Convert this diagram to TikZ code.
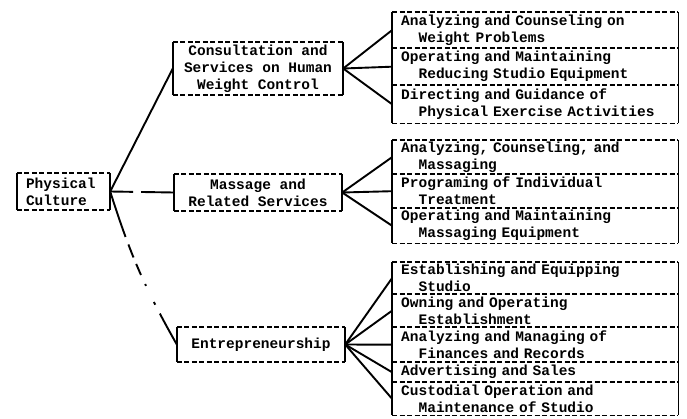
\documentclass[tikz,border=0pt]{standalone}
\usepackage{fontspec}
\setmonofont{Liberation Mono}
\begin{document}
\begin{tikzpicture}[x=1pt,y=-1pt,
  txt/.style={font=\ttfamily\bfseries\fontsize{14.5}{17}\selectfont},
  midbox/.style={txt, inner sep=0pt, align=center},
  rowbox/.style={txt, anchor=north west, inner xsep=9pt, inner ysep=0pt,
    text width=268pt, align=left},
  frameh/.style={line width=1.5pt, dash pattern=on 5pt off 2.5pt},
  framev/.style={line width=1.7pt},
  link/.style={line width=1.9pt}]
\useasboundingbox (0,0) rectangle (687,419);
\newcommand{\ind}{\hspace*{1.2em}}

% ---- left and middle boxes ----
\node[midbox, align=left, minimum width=93pt, minimum height=37pt,
  text width=75pt] (pc) at (63.5,191.5) {Physical\\Culture};
\node[midbox, minimum width=170pt, minimum height=53pt] (cons) at (258,68.5)
  {Consultation and\\Services on Human\\Weight Control};
\node[midbox, minimum width=168pt, minimum height=37pt] (mass) at (258,192.5)
  {Massage and\\Related Services};
\node[midbox, minimum width=168pt, minimum height=35pt] (ent) at (261,344.5)
  {Entrepreneurship};

% ---- right-hand lists ----
\node[rowbox, minimum height=36pt] (a1) at (392,12)
  {Analyzing and Counseling on\\\ind Weight Problems};
\node[rowbox, minimum height=37pt] (a2) at (392,48)
  {Operating and Maintaining\\\ind Reducing Studio Equipment};
\node[rowbox, minimum height=38pt] (a3) at (392,85)
  {Directing and Guidance of\\\ind Physical Exercise Activities};

\node[rowbox, minimum height=34pt] (b1) at (392,140)
  {Analyzing, Counseling, and\\\ind Massaging};
\node[rowbox, minimum height=34pt] (b2) at (392,174)
  {Programing of Individual\\\ind Treatment};
\node[rowbox, minimum height=35pt] (b3) at (392,208)
  {Operating and Maintaining\\\ind Massaging Equipment};

\node[rowbox, minimum height=32pt] (c1) at (392,262)
  {Establishing and Equipping\\\ind Studio};
\node[rowbox, minimum height=33pt] (c2) at (392,294)
  {Owning and Operating\\\ind Establishment};
\node[rowbox, minimum height=35pt] (c3) at (392,327)
  {Analyzing and Managing of\\\ind Finances and Records};
\node[rowbox, minimum height=20pt] (c4) at (392,362)
  {Advertising and Sales};
\node[rowbox, minimum height=33pt] (c5) at (392,382)
  {Custodial Operation and\\\ind Maintenance of Studio};

% ---- frames: dashed tops and bottoms, solid sides ----
\foreach \n in {pc,cons,mass,ent,a1,a2,a3,b1,b2,b3,c1,c2,c3,c4,c5} {
  \draw[frameh] (\n.north west) -- (\n.north east)
                (\n.south west) -- (\n.south east);
  \draw[framev] (\n.north west) -- (\n.south west)
                (\n.north east) -- (\n.south east);
}

% ---- connectors ----
\draw[link] (pc.east) -- (cons.west);
\draw[link, dash pattern=on 23pt off 8pt on 30pt off 0pt] (pc.east) -- (mass.west);
\draw[link, dash pattern=on 48pt off 8pt on 14pt off 7pt on 12pt off 10pt on 2pt off 18pt on 3pt off 10pt on 40pt]
  (pc.east) to[bend right=6] (ent.west);

\foreach \r in {a1,a2,a3} \draw[link] (cons.east) -- (\r.west);
\foreach \r in {b1,b2,b3} \draw[link] (mass.east) -- (\r.west);
\foreach \r in {c1,c2,c3,c4,c5} \draw[link] (ent.east) -- (\r.west);
\end{tikzpicture}
\end{document}
